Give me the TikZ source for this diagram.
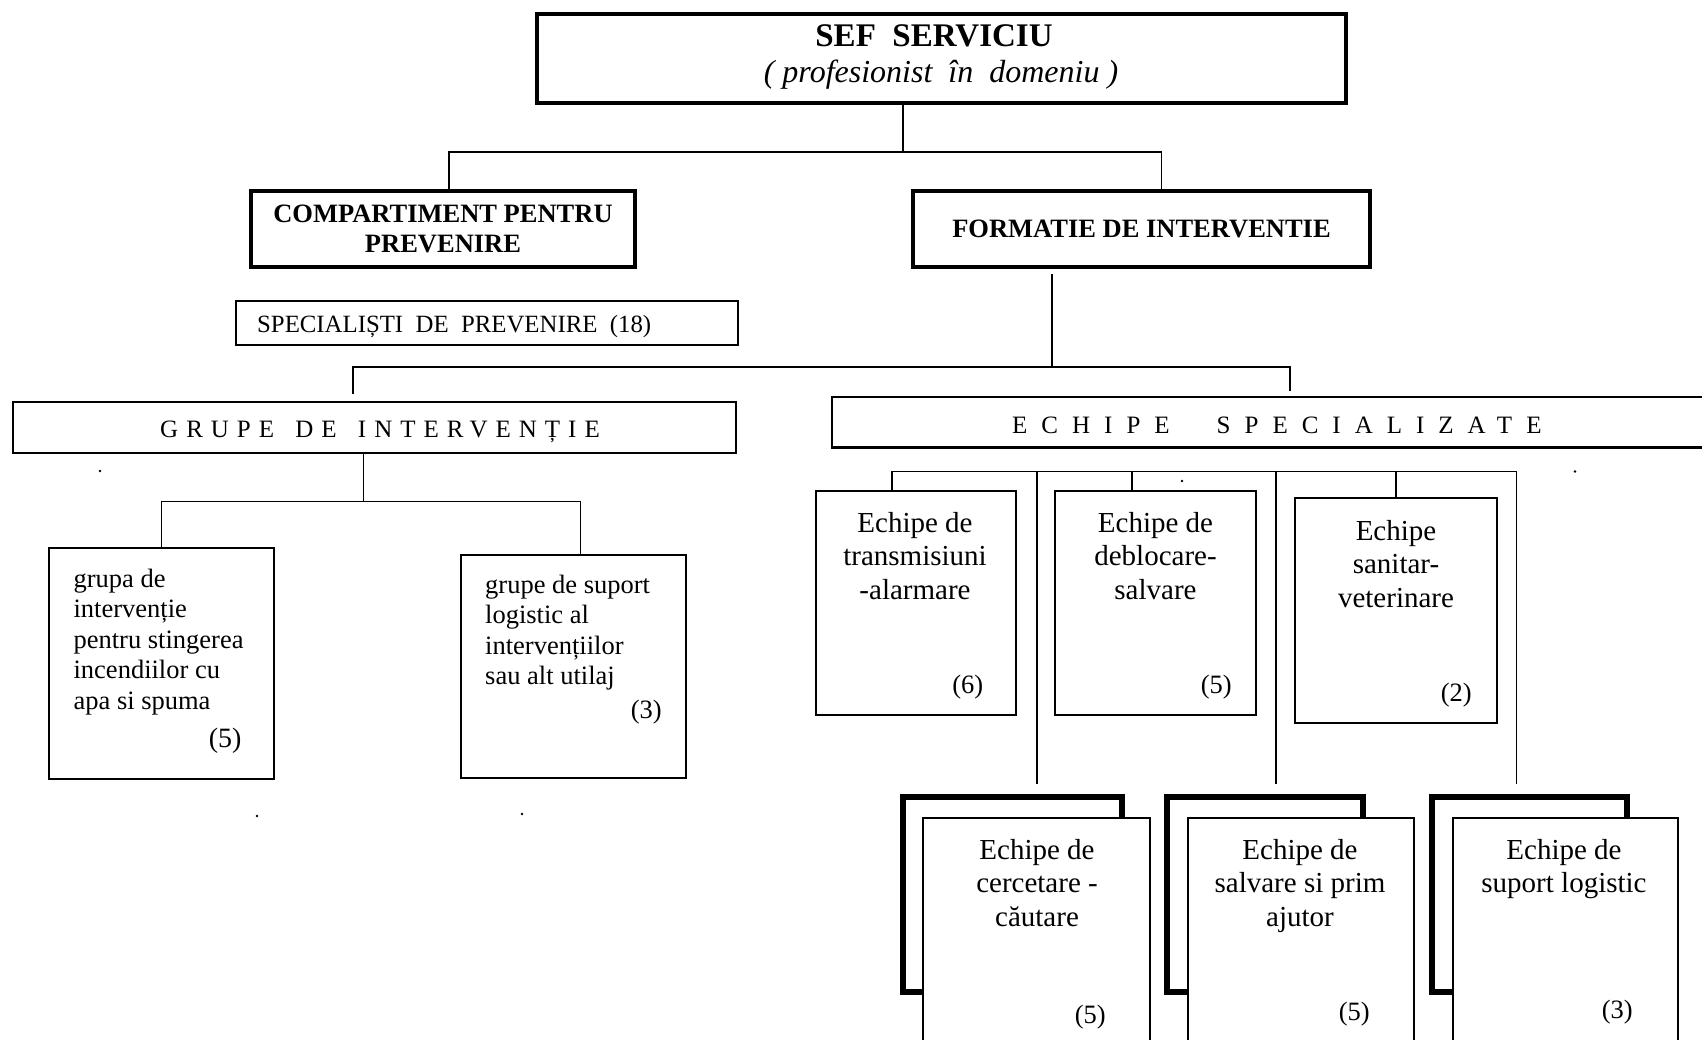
\documentclass[tikz,border=0pt]{standalone}
\usepackage{fontspec}
\setmainfont{Liberation Serif}
\newfontfamily\grfont[LetterSpace=32]{Liberation Serif}
\newfontfamily\ecfont[LetterSpace=56]{Liberation Serif}
\begin{document}
\begin{tikzpicture}[x=1pt,y=-1pt,
  bx/.style={draw, line width=2.5pt, fill=white, inner sep=0pt, outer sep=0pt},
  thickbx/.style={bx, line width=3.5pt},
  backbx/.style={draw, line width=5.5pt, fill=white, inner sep=0pt, outer sep=0pt},
  frontbx/.style={draw, line width=2.3pt, fill=white, inner sep=0pt, outer sep=0pt},
  conn/.style={line width=1.6pt},
  hdr/.style={font=\fontsize{26.5}{30}\selectfont\bfseries, align=center, inner sep=0pt},
  lbl/.style={font=\fontsize{29}{33.5}\selectfont, align=center, anchor=base, inner sep=0pt},
  ltxt/.style={font=\fontsize{26.5}{30.6}\selectfont, align=left, anchor=base west, inner sep=0pt},
  num/.style={font=\fontsize{26.5}{30}\selectfont, anchor=base east, inner sep=0pt},
  dot/.style={fill=black}]
\useasboundingbox (0,0) rectangle (1702,1039);
\clip (0,0) rectangle (1702,1039);
\fill[white] (0,0) rectangle (1702,1039);

% top level
\node[thickbx, minimum width=809pt, minimum height=89pt] (sef) at (941.5,58.5) {};
\node[font=\fontsize{33}{38}\selectfont\bfseries, anchor=base, inner sep=0pt] (sefa) at (934,46) {SEF\ \ SERVICIU};
\node[font=\fontsize{32}{38}\selectfont\itshape, anchor=base, inner sep=0pt] (sefb) at (941,82) {(\ profesionist\ \ în\ \ domeniu\ )};

\node[thickbx, hdr, minimum width=384pt, minimum height=76pt] (comp) at (443,229) {COMPARTIMENT PENTRU\\PREVENIRE};
\node[thickbx, hdr, minimum width=457pt, minimum height=76pt] (form) at (1141.5,229) {FORMATIE DE INTERVENTIE};

\node[bx, minimum width=502pt, minimum height=44pt] (spec) at (487,323) {};
\node[font=\fontsize{24.8}{28}\selectfont, anchor=base west, inner sep=0pt] (spect) at (257,332) {SPECIALIȘTI\ \ DE\ \ PREVENIRE\ \ (18)};

\coordinate (j1) at (903,152);
\draw[conn] (sef.south -| j1) -- (j1);
\draw[conn] ([xshift=6pt]comp.north) |- (j1) -| ([xshift=20pt]form.north);

% second level
\node[bx, minimum width=723pt, minimum height=51pt] (grupe) at (374.5,427.5) {};
\node[font=\fontsize{25}{28}\selectfont\grfont, anchor=base west, inner sep=0pt] (grupet) at (160,437) {GRUPE\hspace{7pt} DE\hspace{7pt} INTERVENȚIE};
\node[bx, minimum width=894pt, minimum height=50.5pt] (echipe) at (1279,422.25) {};
\node[font=\fontsize{25}{28}\selectfont\ecfont, anchor=base west, inner sep=0pt] (echipet) at (1012,433) {ECHIPE\hspace{47pt}SPECIALIZATE};

\coordinate (fs) at (1052,274);
\coordinate (j2) at (1052,367);
\coordinate (gdrop) at (353,394);
\coordinate (edrop) at (1290,391);
\draw[conn] (fs) -- (j2);
\draw[conn] (gdrop) |- (j2) -| (edrop);

% grupe children
\node[bx, minimum width=225pt, minimum height=231pt] (ga) at (161.5,663.5) {};
\node[bx, minimum width=225pt, minimum height=223pt] (gb) at (573.5,666.5) {};
\coordinate (j3) at (363.6,501.5);
\draw[conn] (grupe.south -| j3) -- (j3);
\draw[conn] (ga.north) |- (j3) -| ([xshift=7pt]gb.north);

% multi-line nodes: base anchor = baseline of the last line
\node[ltxt] (gat) at (73.4,709.4) {grupa de\\intervenție\\pentru stingerea\\incendiilor cu\\apa si spuma};
\node[num, font=\fontsize{28}{30}\selectfont] (gan) at (241.6,747) {(5)};
\node[ltxt] (gbt) at (485,684.8) {grupe de suport\\logistic al\\intervențiilor\\sau alt utilaj};
\node[num] (gbn) at (662,718) {(3)};

% echipe children, top row
\node[bx, minimum width=200pt, minimum height=224pt] (t1) at (916,603) {};
\node[bx, minimum width=201pt, minimum height=224pt] (t2) at (1155.5,603) {};
\node[bx, minimum width=202pt, minimum height=225pt] (t3) at (1396,610.5) {};

\coordinate (eh) at (1516.5,471.5);
\coordinate (l1) at (1036.7,784);
\coordinate (l2) at (1276,784);
\coordinate (l3) at (1516.5,784);
\draw[conn] ([xshift=-24pt]t1.north) |- (eh);
\draw[conn] ([xshift=-23.5pt]t2.north) -- ([xshift=-23.5pt]t2.north |- eh);
\draw[conn] (t3.north) -- (t3.north |- eh);
\draw[conn] (l1 |- eh) -- (l1);
\draw[conn] (l2 |- eh) -- (l2);
\draw[conn] (eh) -- (l3);

\node[lbl] (t1t) at (915,599) {Echipe de\\transmisiuni\\-alarmare};
\node[num] (t1n) at (983.5,693) {(6)};
\node[lbl] (t2t) at (1155.5,599) {Echipe de\\deblocare-\\salvare};
\node[num] (t2n) at (1232,693) {(5)};
\node[lbl] (t3t) at (1396,607) {Echipe\\sanitar-\\veterinare};
\node[num] (t3n) at (1472,701) {(2)};

% bottom row, double boxes
\node[backbx, minimum width=219pt, minimum height=195pt] (b1) at (1012.5,894.5) {};
\node[frontbx, minimum width=227pt, minimum height=252pt] (f1) at (1036.5,944) {};
\node[backbx, minimum width=196pt, minimum height=195pt] (b2) at (1265,894.5) {};
\node[frontbx, minimum width=226pt, minimum height=252pt] (f2) at (1301,944) {};
\node[backbx, minimum width=195pt, minimum height=195pt] (b3) at (1529.5,894.5) {};
\node[frontbx, minimum width=225pt, minimum height=252pt] (f3) at (1565.5,944) {};

\node[lbl] (f1t) at (1037,926) {Echipe de\\cercetare -\\căutare};
\node[num] (f1n) at (1106,1023) {(5)};
\node[lbl] (f2t) at (1300,926) {Echipe de\\salvare si prim\\ajutor};
\node[num] (f2n) at (1370,1020) {(5)};
\node[lbl] (f3t) at (1564,892.5) {Echipe de\\suport logistic};
\node[num] (f3n) at (1633,1018) {(3)};

% stray dots
\fill[dot] (100,471) circle (1.3pt);
\fill[dot] (257,816) circle (1.3pt);
\fill[dot] (522,814) circle (1.3pt);
\fill[dot] (1182,481) circle (1.3pt);
\fill[dot] (1575,471.5) circle (1.3pt);
\end{tikzpicture}
\end{document}
